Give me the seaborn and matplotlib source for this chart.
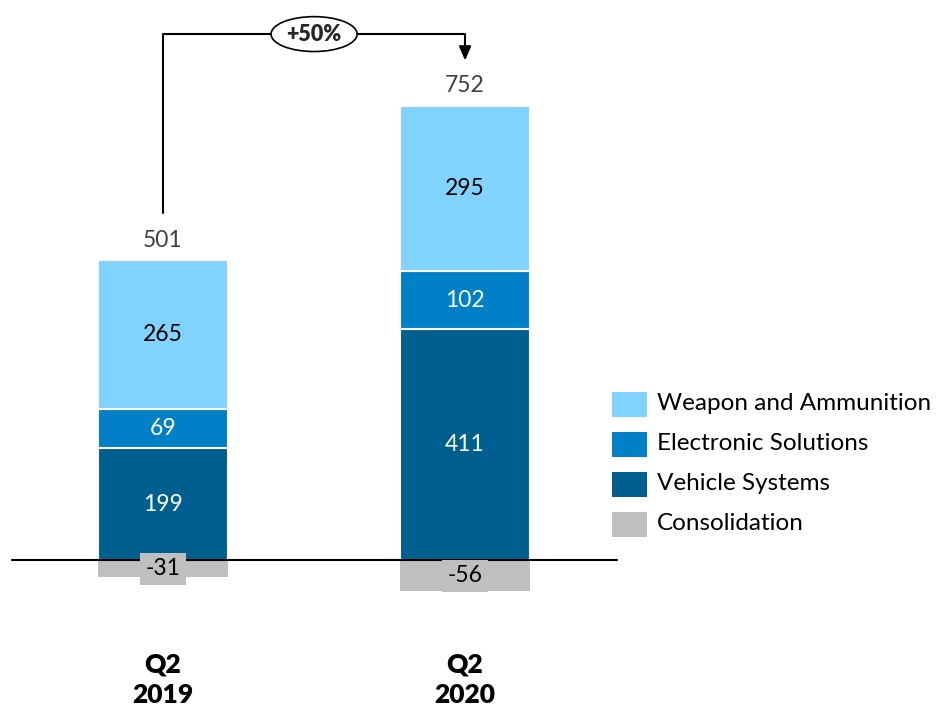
import matplotlib
matplotlib.use("Agg")
import matplotlib.pyplot as plt
from matplotlib.patches import Ellipse, Rectangle
import seaborn as sns
import pandas as pd

# Quarterly order intake by division (EUR m)
periods = ["Q2\n2019", "Q2\n2020"]
weapon = [265, 295]
electronic = [69, 102]
vehicle = [199, 411]
consolidation = [-31, -56]
totals = [501, 752]
growth_label = "+50%"

series_names = ["Weapon and Ammunition", "Electronic Solutions", "Vehicle Systems", "Consolidation"]
colors = {"Weapon and Ammunition": "#80D3FF",
          "Electronic Solutions": "#0080C6",
          "Vehicle Systems": "#005F91",
          "Consolidation": "#BFBFBF"}

sns.set_theme(style="white")
plt.rcParams["font.family"] = ["Lato", "DejaVu Sans"]

fig = plt.figure(figsize=(9.38, 7.09), dpi=100)
ax = fig.add_axes([0, 0, 1, 1])

df = pd.DataFrame({"period": periods, "weapon": weapon, "electronic": electronic,
                   "vehicle": vehicle, "consolidation": consolidation})
bottom_elec = df["vehicle"]
bottom_weap = df["vehicle"] + df["electronic"]

bw = 0.43
kw = dict(width=bw, edgecolor="white", linewidth=1.5, saturation=1, ax=ax)
sns.barplot(data=df, x="period", y="vehicle", color=colors["Vehicle Systems"], **kw)
sns.barplot(data=df, x="period", y="electronic", bottom=bottom_elec,
            color=colors["Electronic Solutions"], **kw)
sns.barplot(data=df, x="period", y="weapon", bottom=bottom_weap,
            color=colors["Weapon and Ammunition"], **kw)
sns.barplot(data=df, x="period", y="consolidation", color=colors["Consolidation"],
            width=bw, edgecolor="none", linewidth=0, saturation=1, ax=ax)

ax.set_xlim(-0.540, 2.566)
ax.set_ylim(-264.9, 995.6)
ax.axis("off")

# zero line
ax.plot([-0.5, 1.503], [0, 0], color="black", lw=1.5, zorder=3)

fs_val = 16.5
for i in range(len(periods)):
    v, e, w = vehicle[i], electronic[i], weapon[i]
    ax.text(i, v / 2, f"{v}", ha="center", va="center", color="white", fontsize=fs_val, zorder=5)
    ax.text(i, v + e / 2, f"{e}", ha="center", va="center", color="white", fontsize=fs_val, zorder=5)
    ax.text(i, v + e + w / 2, f"{w}", ha="center", va="center", color="black", fontsize=fs_val, zorder=5)
    top = v + e + w
    ax.text(i, top + 35, f"{totals[i]}", ha="center", va="center", color="#404040", fontsize=fs_val, zorder=5)
    ax.text(i, -16 if i == 0 else consolidation[i] / 2,
            f"{consolidation[i]}", ha="center", va="center", color="black", fontsize=fs_val, zorder=6,
            bbox=dict(boxstyle="square,pad=0.25", facecolor=colors["Consolidation"], edgecolor="none"))

    ax.text(i, -213, periods[i], ha="center", va="center", color="black", fontsize=19,
            fontweight="heavy", linespacing=1.3)

# growth bracket
top0 = sum([vehicle[0], electronic[0], weapon[0]])
y_bracket = 935
ax.plot([0, 0, 1, 1], [top0 + 84, y_bracket, y_bracket, 905], color="black", lw=1.5, zorder=3)
ax.annotate("", xy=(1, 888), xytext=(1, 912),
            arrowprops=dict(arrowstyle="-|>,head_width=0.3,head_length=0.7", color="black", lw=1.5,
                            shrinkA=0, shrinkB=0))
ell = Ellipse((0.5, y_bracket), width=0.285, height=62, facecolor="white", edgecolor="black", lw=1.2, zorder=4)
ax.add_patch(ell)
ax.text(0.5, y_bracket, growth_label, ha="center", va="center", fontsize=15.5, fontweight="heavy", zorder=5)

# legend drawn in pixel coordinates
for k, name in enumerate(series_names):
    yc = 709 - (404 + 40 * k)
    fig.patches.append(Rectangle((612, yc - 12.5), 35, 25, transform=None,
                                 facecolor=colors[name], edgecolor="none"))
    fig.text(657 / 938, yc / 709, name, ha="left", va="center", fontsize=17.5, color="black")

fig.savefig("out.png", dpi=100)
